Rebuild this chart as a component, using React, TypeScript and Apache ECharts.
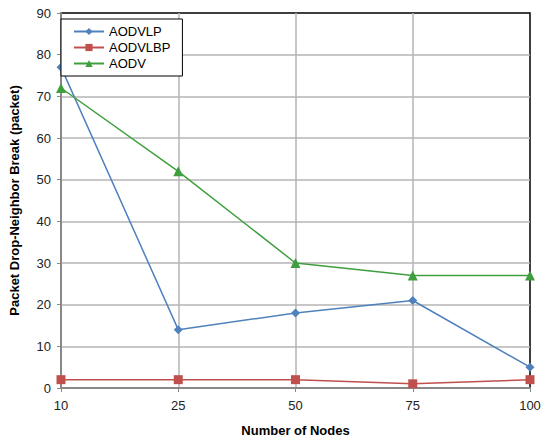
import React, { useEffect, useRef } from "react";
import * as echarts from "echarts";

const categories = ["10", "25", "50", "75", "100"];
const aodvlp = [77, 14, 18, 21, 5];
const aodvlbp = [2, 2, 2, 1, 2];
const aodv = [72, 52, 30, 27, 27];

const FONT = "'Liberation Sans', Arial, sans-serif";

export default function App() {
  const ref = useRef<HTMLDivElement>(null);
  useEffect(() => {
    const chart = echarts.init(ref.current!, null, { renderer: "svg" });
    chart.setOption({
      animation: false,
      backgroundColor: "#fff",
      textStyle: { fontFamily: FONT },
      grid: {
        left: 60,
        right: 14,
        top: 13,
        bottom: 53,
        show: true,
        borderColor: "#000",
        borderWidth: 1.5,
      },
      legend: {
        orient: "vertical",
        left: 61,
        top: 19,
        backgroundColor: "#fff",
        borderColor: "#000",
        borderWidth: 1,
        padding: [6, 12, 6, 12],
        itemGap: 3,
        itemWidth: 30,
        itemHeight: 9,
        textStyle: { fontSize: 13, color: "#000", fontFamily: FONT },
        data: ["AODVLP", "AODVLBP", "AODV"],
      },
      xAxis: {
        type: "category",
        data: categories,
        boundaryGap: false,
        name: "Number of Nodes",
        nameLocation: "middle",
        nameGap: 36,
        nameTextStyle: { fontSize: 13, fontWeight: "bold", color: "#000" },
        axisLine: { lineStyle: { color: "#888", width: 2 } },
        axisTick: { show: true, length: 4, lineStyle: { color: "#888" } },
        axisLabel: { fontSize: 13, color: "#222", margin: 11 },
        splitLine: { show: true, showMaxLine: false, lineStyle: { color: "#b4b4b4", width: 1.5 } },
      },
      yAxis: {
        type: "value",
        min: 0,
        max: 90,
        interval: 10,
        name: "Packet Drop-Neighbor Break (packet)",
        nameLocation: "middle",
        nameGap: 40,
        nameTextStyle: { fontSize: 13, fontWeight: "bold", color: "#000" },
        axisLine: { show: true, lineStyle: { color: "#888", width: 2 } },
        axisTick: { show: true, length: 4, lineStyle: { color: "#888" } },
        axisLabel: { fontSize: 13, color: "#222", margin: 10 },
        splitLine: { show: true, showMaxLine: false, lineStyle: { color: "#b4b4b4", width: 1.5 } },
      },
      series: [
        {
          name: "AODVLP",
          type: "line",
          data: aodvlp,
          symbol: "diamond",
          symbolSize: 9,
          color: "#4f81bd",
          lineStyle: { width: 1.5 },
        },
        {
          name: "AODVLBP",
          type: "line",
          data: aodvlbp,
          symbol: "rect",
          symbolSize: 9,
          color: "#c0504d",
          lineStyle: { width: 1.5 },
        },
        {
          name: "AODV",
          type: "line",
          data: aodv,
          symbol: "triangle",
          symbolSize: 10,
          color: "#3f9f3f",
          lineStyle: { width: 1.5 },
        },
      ],
    });
    return () => chart.dispose();
  }, []);
  return <div ref={ref} style={{ width: 544, height: 442, position: "absolute", left: 0, top: 0 }} />;
}
